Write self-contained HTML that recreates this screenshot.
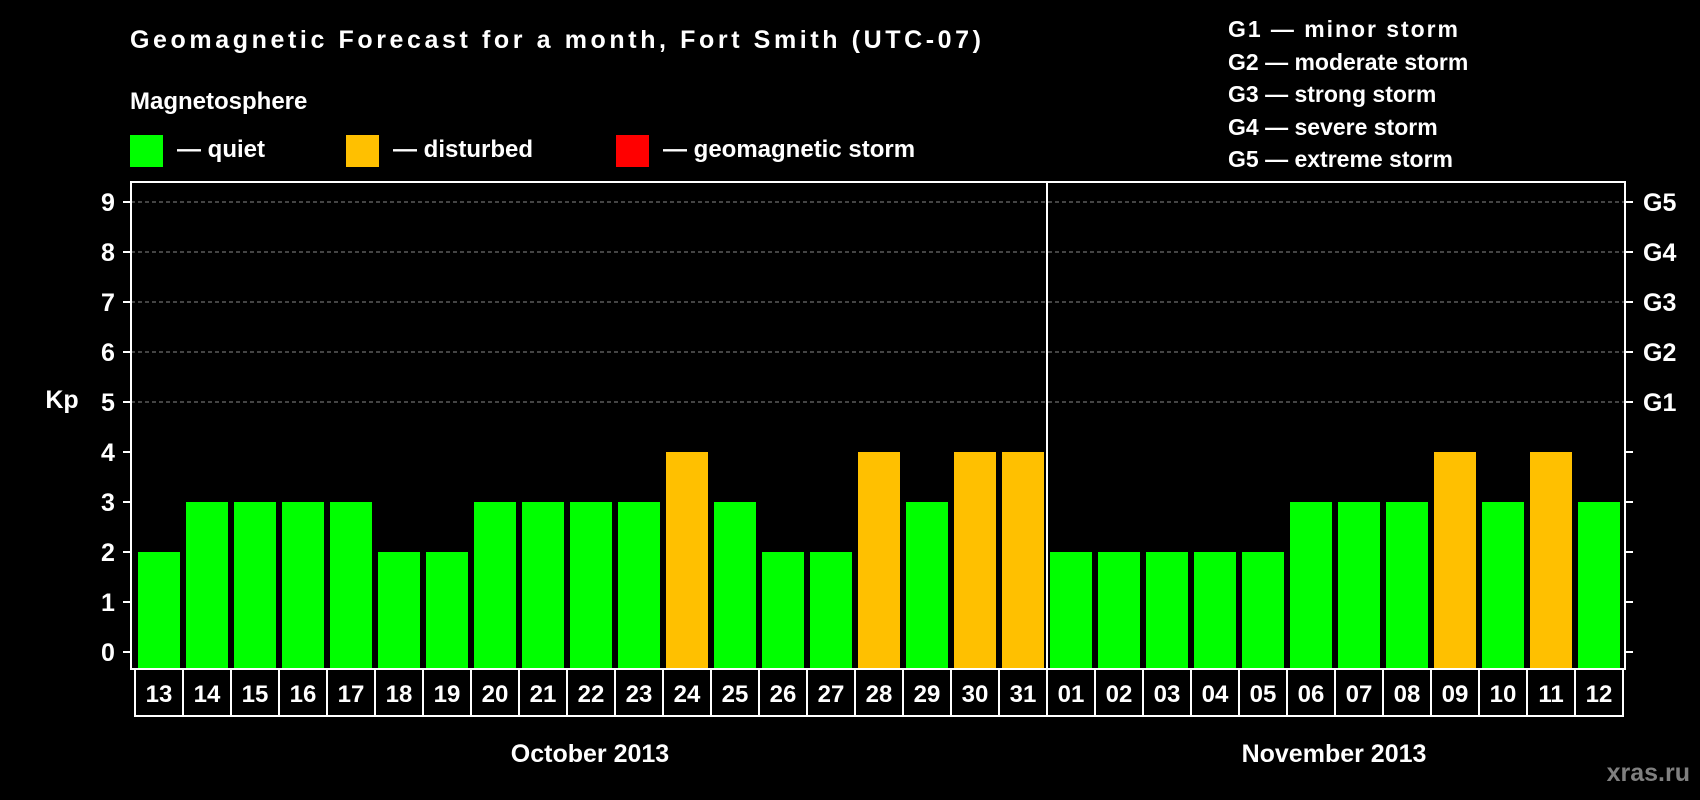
<!DOCTYPE html>
<html><head><meta charset="utf-8"><style>
body{margin:0;background:#000;}
svg{display:block;font-family:"Liberation Sans",Arial,sans-serif;font-weight:bold;}
</style></head><body>
<svg id="chart" width="1700" height="800" viewBox="0 0 1700 800">
<rect width="1700" height="800" fill="#000"/>
<text x="130" y="48" fill="#fff" font-size="25" textLength="851">Geomagnetic Forecast for a month, Fort Smith (UTC-07)</text>
<text x="130" y="109" fill="#fff" font-size="24">Magnetosphere</text>
<g><rect x="130" y="135" width="33" height="32" fill="#00ff00"/><text x="177" y="157" fill="#fff" font-size="24">— quiet</text></g>
<g><rect x="346" y="135" width="33" height="32" fill="#ffc000"/><text x="393" y="157" fill="#fff" font-size="24">— disturbed</text></g>
<g><rect x="616" y="135" width="33" height="32" fill="#ff0000"/><text x="663" y="157" fill="#fff" font-size="24">— geomagnetic storm</text></g>
<g fill="#fff" font-size="23">
<text x="1228" y="37" textLength="230">G1 — minor storm</text>
<text x="1228" y="70">G2 — moderate storm</text>
<text x="1228" y="102">G3 — strong storm</text>
<text x="1228" y="135">G4 — severe storm</text>
<text x="1228" y="167">G5 — extreme storm</text>
</g>
<text x="62" y="408" fill="#fff" font-size="25" text-anchor="middle">Kp</text>
<text x="590" y="762" fill="#fff" font-size="25" text-anchor="middle">October 2013</text>
<text x="1334" y="762" fill="#fff" font-size="25" text-anchor="middle">November 2013</text>
<text x="1690" y="781" fill="#808080" font-size="25" text-anchor="end">xras.ru</text>
<g id="plot"></g>
</svg>
<script>
const days=["13","14","15","16","17","18","19","20","21","22","23","24","25","26","27","28","29","30","31","01","02","03","04","05","06","07","08","09","10","11","12"];
const kp=[2,3,3,3,3,2,2,3,3,3,3,4,3,2,2,4,3,4,4,2,2,2,2,2,3,3,3,4,3,4,3];
const yTicks=[0,1,2,3,4,5,6,7,8,9];
const gLabels=["G1","G2","G3","G4","G5"];
const gLevels=[5,6,7,8,9];
const monthSplit=19;

const NS="http://www.w3.org/2000/svg";
const plot=document.getElementById('plot');
const L=131,R=1625,T=182,B=669;
const y=v=>652-v*50;
const x0=138,pitch=48,bw=42;
const x=i=>x0+i*pitch;
function mk(tag,at,txt){const e=document.createElementNS(NS,tag);for(const k in at)e.setAttribute(k,at[k]);if(txt!==undefined)e.textContent=txt;plot.appendChild(e);return e;}
gLevels.forEach((v,i)=>{
 const g=mk('line',{x1:L,x2:R,y1:y(v),y2:y(v),stroke:'#888','stroke-dasharray':'4,3','stroke-width':1});
 
 
 const t=mk('text',{x:1643,y:y(v)+9,fill:'#fff','font-size':25},gLabels[i]);
 
 
});
kp.forEach((v,i)=>{
 const r=mk('rect',{x:x(i),y:y(v),width:bw,height:B-y(v),fill:v>=5?'#ff0000':(v>=4?'#ffc000':'#00ff00')});
 
 
 const b=mk('rect',{x:x(i)-3,y:B,width:pitch,height:47,fill:'none',stroke:'#fff','stroke-width':2});
 
 
 const t=mk('text',{x:x(i)+bw/2,y:B+33,fill:'#fff','font-size':24,'text-anchor':'middle'},days[i]);
 
 
});
yTicks.forEach(v=>{
 const t=mk('text',{x:108,y:y(v)+9,fill:'#fff','font-size':25,'text-anchor':'middle'},String(v));
 
 
 const tl=mk('line',{x1:123,x2:L,y1:y(v),y2:y(v),stroke:'#fff','stroke-width':2});
 
 
 const tr=mk('line',{x1:R,x2:1633,y1:y(v),y2:y(v),stroke:'#fff','stroke-width':2});
 
 
});
const frame=mk('rect',{x:L,y:T,width:R-L,height:B-T,fill:'none',stroke:'#fff','stroke-width':2});


const sx=x(monthSplit)-3;
const sep=mk('line',{x1:sx,x2:sx,y1:T,y2:B,stroke:'#fff','stroke-width':2});


</script>
</body></html>
